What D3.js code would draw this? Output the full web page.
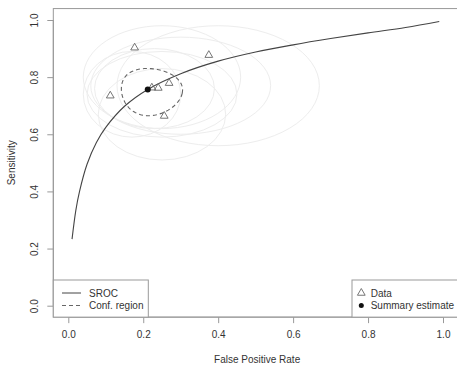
<!DOCTYPE html>
<html>
<head>
<meta charset="utf-8">
<script src="https://cdn.jsdelivr.net/npm/d3@7"></script>
<style>
  body { margin: 0; background: #fff; }
  text { font-family: "Liberation Sans", Arial, sans-serif; fill: #333; }
</style>
</head>
<body>
<div id="chart"></div>
<script>
// study data (FPR, sensitivity)
const studyFpr = [0.177, 0.375, 0.112, 0.223, 0.240, 0.269, 0.256];
const studySens = [0.903, 0.877, 0.735, 0.763, 0.762, 0.779, 0.664];

// summary estimate
const summaryFpr = 0.212;
const summarySens = 0.757;

// SROC curve
const srocFpr = [0.01, 0.02, 0.03, 0.05, 0.075, 0.10, 0.15, 0.212, 0.30, 0.40, 0.50, 0.60, 0.70, 0.80, 0.90, 0.99];
const srocSens = [0.233, 0.333, 0.40, 0.495, 0.571, 0.624, 0.698, 0.757, 0.812, 0.856, 0.888, 0.913, 0.935, 0.955, 0.974, 0.995];

// confidence region (logit space: semi axes, rotation)
const confAxes = [0.49, 0.45];
const confAngle = -0.15;

// faint study-level regions (centre fpr, centre sens, half width, half height)
const faintCx = [0.40, 0.25, 0.17, 0.23, 0.25, 0.30, 0.25];
const faintCy = [0.77, 0.80, 0.74, 0.76, 0.74, 0.77, 0.67];
const faintRx = [0.27, 0.21, 0.13, 0.16, 0.20, 0.24, 0.17];
const faintRy = [0.21, 0.18, 0.15, 0.14, 0.15, 0.17, 0.16];

const xTicks = [0, 0.2, 0.4, 0.6, 0.8, 1.0];
const yTicks = [0, 0.2, 0.4, 0.6, 0.8, 1.0];

const width = 457, height = 372;
const svg = d3.select("#chart").append("svg")
  .attr("width", width).attr("height", height);

const x = d3.scaleLinear().domain([0, 1]).range([68.3, 443]);
const y = d3.scaleLinear().domain([0, 1]).range([305.7, 20]);

const boxL = x(-0.04), boxR = x(1.04), boxT = y(1.04), boxB = y(-0.04);

const logit = p => Math.log(p / (1 - p));
const expit = v => 1 / (1 + Math.exp(-v));

// faint ellipses
const plot = svg.append("g");
faintCx.forEach((cx, i) => {
  plot.append("ellipse")
    .attr("cx", x(cx)).attr("cy", y(faintCy[i]))
    .attr("rx", x(faintRx[i]) - x(0)).attr("ry", y(0) - y(faintRy[i]))
    .attr("fill", "none").attr("stroke", "#ededed").attr("stroke-width", 1);
});

// confidence region
const cLx = logit(summaryFpr), cLy = logit(summarySens);
const confPts = d3.range(0, 360, 4).map(deg => {
  const t = deg * Math.PI / 180;
  const u = confAxes[0] * Math.cos(t), v = confAxes[1] * Math.sin(t);
  const lx = cLx + u * Math.cos(confAngle) - v * Math.sin(confAngle);
  const ly = cLy + u * Math.sin(confAngle) + v * Math.cos(confAngle);
  return [x(expit(lx)), y(expit(ly))];
});
plot.append("path")
  .attr("d", d3.line().curve(d3.curveLinearClosed)(confPts))
  .attr("fill", "none").attr("stroke", "#666").attr("stroke-width", 1.1)
  .attr("stroke-dasharray", "4,3");

// SROC curve
const srocLine = d3.line().curve(d3.curveCatmullRom)
  .x((d, i) => x(srocFpr[i])).y(d => y(d));
plot.append("path")
  .attr("d", srocLine(srocSens))
  .attr("fill", "none").attr("stroke", "#444").attr("stroke-width", 1.1);

// triangles
const tri = d3.symbol().type(d3.symbolTriangle).size(26);
plot.selectAll(".pt").data(studyFpr).enter().append("path")
  .attr("transform", (d, i) => `translate(${x(d)},${y(studySens[i])})`)
  .attr("d", tri).attr("fill", "none").attr("stroke", "#666").attr("stroke-width", 0.9);

// summary estimate
plot.append("circle").attr("cx", x(summaryFpr)).attr("cy", y(summarySens))
  .attr("r", 3).attr("fill", "#111");

// box
svg.append("rect").attr("x", boxL).attr("y", boxT)
  .attr("width", boxR - boxL).attr("height", boxB - boxT)
  .attr("fill", "none").attr("stroke", "#999");

// axes
const xAxis = d3.axisBottom(x).tickValues(xTicks).tickFormat(d3.format(".1f")).tickSize(6).tickPadding(8);
const gx = svg.append("g").attr("transform", `translate(0,${boxB})`).call(xAxis);
gx.select(".domain").attr("d", `M${x(0)},0H${x(1)}`).attr("stroke", "#999");
gx.selectAll(".tick line").attr("stroke", "#999");
gx.selectAll(".tick text").style("font-size", "10px").attr("fill", "#444");

const yAxis = d3.axisLeft(y).tickValues(yTicks).tickFormat(d3.format(".1f")).tickSize(6);
const gy = svg.append("g").attr("transform", `translate(${boxL},0)`).call(yAxis);
gy.select(".domain").attr("d", `M0,${y(0)}V${y(1)}`).attr("stroke", "#999");
gy.selectAll(".tick line").attr("stroke", "#999");
gy.selectAll(".tick text")
  .style("font-size", "10px").attr("fill", "#444")
  .attr("x", 0).attr("dy", 0)
  .attr("text-anchor", "middle")
  .attr("transform", "translate(-15,0) rotate(-90)");

// titles
svg.append("text").attr("x", (boxL + 457) / 2 + 2).attr("y", 363)
  .attr("text-anchor", "middle").style("font-size", "10px").text("False Positive Rate");
svg.append("text").attr("transform", `translate(15,${(boxT + boxB) / 2}) rotate(-90)`)
  .attr("text-anchor", "middle").style("font-size", "10px").text("Sensitivity");

// left legend
const lg = svg.append("g");
lg.append("rect").attr("x", boxL).attr("y", 280).attr("width", 148.3 - boxL).attr("height", boxB - 280)
  .attr("fill", "#fff").attr("stroke", "#999");
lg.append("line").attr("x1", 62).attr("x2", 81).attr("y1", 293).attr("y2", 293).attr("stroke", "#444");
lg.append("line").attr("x1", 62).attr("x2", 81).attr("y1", 305.5).attr("y2", 305.5)
  .attr("stroke", "#666").attr("stroke-dasharray", "4,3");
lg.append("text").attr("x", 89).attr("y", 296.5).style("font-size", "10px").text("SROC");
lg.append("text").attr("x", 89).attr("y", 309).style("font-size", "10px").text("Conf. region");

// right legend
const rg = svg.append("g");
rg.append("rect").attr("x", 352).attr("y", 280).attr("width", boxR - 352).attr("height", boxB - 280)
  .attr("fill", "#fff").attr("stroke", "#999");
rg.append("path").attr("transform", "translate(361.3,293)").attr("d", tri)
  .attr("fill", "none").attr("stroke", "#666").attr("stroke-width", 0.9);
rg.append("circle").attr("cx", 361.3).attr("cy", 305.5).attr("r", 2.5).attr("fill", "#111");
rg.append("text").attr("x", 370.7).attr("y", 296.5).style("font-size", "10px").text("Data");
rg.append("text").attr("x", 370.7).attr("y", 309).style("font-size", "10px").text("Summary estimate");
</script>
</body>
</html>
